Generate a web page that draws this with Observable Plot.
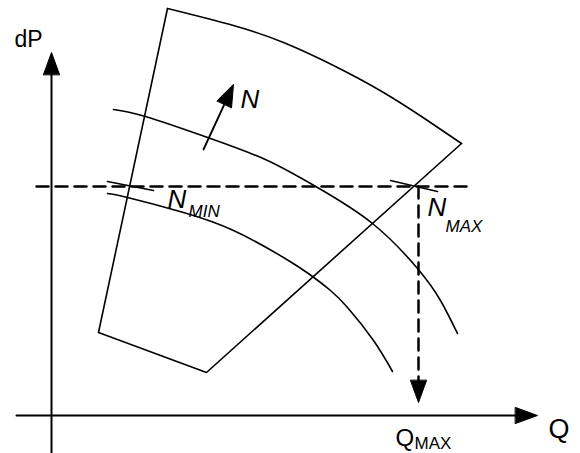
<!DOCTYPE html>
<html><head><meta charset="utf-8">
<script src="https://cdn.jsdelivr.net/npm/d3@7"></script>
<script src="https://cdn.jsdelivr.net/npm/@observablehq/plot@0.6"></script>
<style>html,body{margin:0;padding:0;background:#fff} svg{display:block}</style>
</head><body><div id="chart"></div>
<script>
// Schematic pump map: flow Q (x) vs pressure rise dP (y), arbitrary units
const topArc = [[116,407],[182,390],[232,373],[282,350],[332,323],[376,295],[410,272]];
const regionEdges = [[410,272],[155,43],[47,83],[116,407]];
const curveUpper = [[62,306],[94,299],[159,277],[216,255],[266,228],[321,192],[366,147],[389,115],[406,82]];
const curveNmin = [[56,222],[76,218],[132,203],[182,185],[232,158],[261,139],[279,125],[296,108],[322,75],[341,44]];
const tickNmin = [[56,234],[102,225]];
const tickNmax = [[339,235],[386,224]];
const qAxis = [[-35,0],[470,0]];
const dpAxis = [[0,-38],[0,355]];
const dashH = [[-15,229],[419,229]];
const dashV = [[367,229],[367,30]];
const nArrow = [[152,266],[176,318]];
const arrowHeads = [
  {q:0, dp:363, rot:0},
  {q:486, dp:0, rot:90},
  {q:367, dp:13, rot:180},
  {q:182, dp:331, rot:24.8}
];
const axisLabelDP = [{text:"dP", q:-37, dp:369}];
const axisLabelQ = [{text:"Q", q:497, dp:-22}];
const qmaxMain = [{text:"Q", q:344, dp:-30}];
const qmaxSub = [{text:"MAX", q:363, dp:-33}];
const nLabels = [
  {text:"N", q:189, dp:308},
  {text:"N", q:116, dp:208},
  {text:"N", q:376, dp:200}
];
const nSubLabels = [
  {text:"MIN", q:137, dp:199},
  {text:"MAX", q:394, dp:184}
];

const font = "Liberation Sans, Arial, Helvetica, sans-serif";
const P = (arr) => arr.map(([q, dp]) => ({q, dp}));
const triangle = {
  draw(context, l, r) {
    context.moveTo(-r, 0);
    context.lineTo(0, -l);
    context.lineTo(r, 0);
    context.closePath();
  }
};
const T = (data, size, style) => Plot.text(data, {
  x: "q", y: "dp", text: "text", fontSize: size, textAnchor: "start",
  lineAnchor: "bottom", fontFamily: font, fontStyle: style, fill: "black"
});

const chart = Plot.plot({
  width: 580,
  height: 453,
  margin: 0,
  style: {background: "#fff"},
  x: {domain: [-51, 529], axis: null},
  y: {domain: [-38, 415], axis: null},
  marks: [
    Plot.line(P(topArc), {x: "q", y: "dp", curve: "natural", stroke: "black", strokeWidth: 1.6}),
    Plot.line(P(regionEdges), {x: "q", y: "dp", stroke: "black", strokeWidth: 1.6}),
    Plot.line(P(curveUpper), {x: "q", y: "dp", curve: "natural", stroke: "black", strokeWidth: 1.6}),
    Plot.line(P(curveNmin), {x: "q", y: "dp", curve: "natural", stroke: "black", strokeWidth: 1.6}),
    Plot.line(P(tickNmin), {x: "q", y: "dp", stroke: "black", strokeWidth: 1.6}),
    Plot.line(P(tickNmax), {x: "q", y: "dp", stroke: "black", strokeWidth: 1.6}),
    Plot.line(P(qAxis), {x: "q", y: "dp", stroke: "black", strokeWidth: 2}),
    Plot.line(P(dpAxis), {x: "q", y: "dp", stroke: "black", strokeWidth: 2}),
    Plot.line(P(dashH), {x: "q", y: "dp", stroke: "black", strokeWidth: 2.5, strokeDasharray: "12,7"}),
    Plot.line(P(dashV), {x: "q", y: "dp", stroke: "black", strokeWidth: 2.5, strokeDasharray: "12,7"}),
    Plot.line(P(nArrow), {x: "q", y: "dp", stroke: "black", strokeWidth: 1.8}),
    Plot.vector(arrowHeads, {x: "q", y: "dp", rotate: "rot", length: 22, r: 8, anchor: "end",
      shape: triangle, fill: "black", stroke: "black", strokeWidth: 1}),
    T(axisLabelDP, 23, "normal"),
    T(axisLabelQ, 27, "normal"),
    T(qmaxMain, 24, "normal"),
    T(qmaxSub, 17, "normal"),
    T(nLabels, 26, "italic"),
    T(nSubLabels, 17, "italic")
  ]
});
document.getElementById("chart").appendChild(chart);
</script>
</body></html>
